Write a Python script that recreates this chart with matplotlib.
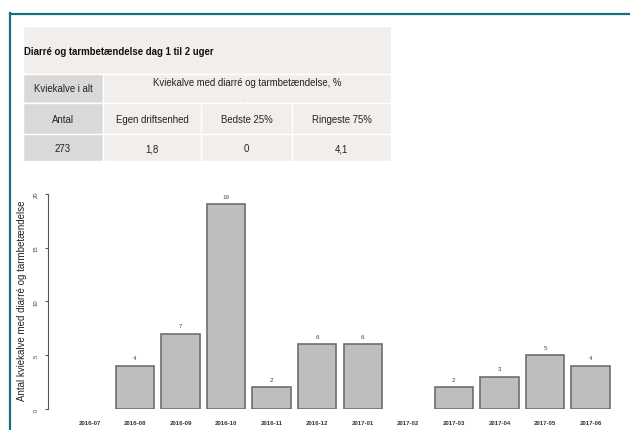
import matplotlib
matplotlib.use("Agg")
import matplotlib.pyplot as plt
from matplotlib.patches import Rectangle
from matplotlib.lines import Line2D

months = ["2016-07", "2016-08", "2016-09", "2016-10", "2016-11", "2016-12",
          "2017-01", "2017-02", "2017-03", "2017-04", "2017-05", "2017-06"]
counts = [0, 4, 7, 19, 2, 6, 6, 0, 2, 3, 5, 4]
yticks = [0, 5, 10, 15, 20]

table_title = "Diarré og tarmbetændelse dag 1 til 2 uger"
header_left = "Kviekalve i alt"
header_right = "Kviekalve med diarré og tarmbetændelse, %"
col_labels = ["Antal", "Egen driftsenhed", "Bedste 25%", "Ringeste 75%"]
row_values = ["273", "1,8", "0", "4,1"]
ylabel = "Antal kviekalve med diarré og tarmbetændelse"

plt.rcParams['font.family'] = ['Liberation Sans', 'DejaVu Sans']

W, H = 630, 431
fig = plt.figure(figsize=(W / 100, H / 100), dpi=100)
fig.patch.set_facecolor("white")

def fx(px):
    return px / W

def fy(py):
    return 1 - py / H

# teal border
teal = "#17707a"
fig.add_artist(Line2D([fx(10), fx(10)], [fy(14), 0], color=teal, lw=1.6, transform=fig.transFigure))
fig.add_artist(Line2D([fx(10), 1], [fy(14.5), fy(14.5)], color=teal, lw=1.6, transform=fig.transFigure))

# table
bg = "#f2eeec"
gray = "#d9d9d9"
def rect(x0, y0, x1, y1, color):
    fig.add_artist(Rectangle((fx(x0), fy(y1)), fx(x1) - fx(x0), fy(y0) - fy(y1),
                             facecolor=color, edgecolor="white", lw=1.0,
                             transform=fig.transFigure))

rect(23, 27, 391, 75, bg)
rect(23, 75, 103, 104, gray)
rect(103, 75, 391, 104, bg)
cols = [23, 103, 201, 292, 391]
for r, (y0, y1) in enumerate([(104, 135), (135, 162)]):
    for c in range(4):
        rect(cols[c], y0, cols[c + 1], y1, gray if c == 0 else bg)

fig.text(fx(24), fy(52), table_title, fontsize=6.9, fontweight="bold",
         ha="left", va="center", color="#111111")
fig.text(fx(63), fy(89.5), header_left, fontsize=6.9, ha="center", va="center", color="#222222")
fig.text(fx(247), fy(83), header_right, fontsize=6.9, ha="center", va="center", color="#222222")
fig.text(fx(244), fy(99), ".", fontsize=4, ha="center", va="center", color="#888888")
for c in range(4):
    xc = (cols[c] + cols[c + 1]) / 2
    fig.text(fx(xc), fy(120), col_labels[c], fontsize=6.9, ha="center", va="center", color="#222222")
    fig.text(fx(xc), fy(149), row_values[c], fontsize=6.9, ha="center", va="center", color="#222222")

# bar chart
left_px, right_px = 48, 625
bottom_px, top_px = 410, 194.7
ax = fig.add_axes([fx(left_px), fy(bottom_px), fx(right_px) - fx(left_px), fy(top_px) - fy(bottom_px)])
ax.set_facecolor("none")
x = list(range(len(months)))
bx = [xi for xi, v in zip(x, counts) if v > 0]
bv = [v for v in counts if v > 0]
ax.bar(bx, bv, width=0.845, color="#bebebe", edgecolor="#6e6e6e", linewidth=1.2)
step = 45.55
ax.set_xlim(-(89.5 - left_px) / step, 11 + (right_px - 590.5) / step)
ax.set_ylim(0, 20)
for xi, v in zip(bx, bv):
    ax.annotate(str(v), (xi, v), xytext=(0, 4), textcoords="offset points",
                ha="center", va="bottom", fontsize=4.5, color="#5a3a40")
for s in ["top", "right", "bottom"]:
    ax.spines[s].set_visible(False)
ax.spines["left"].set_bounds(0, 20)
ax.spines["left"].set_color("#555555")
ax.spines["left"].set_linewidth(0.8)
ax.set_yticks(yticks)
ax.set_yticklabels([str(t) for t in yticks], rotation=90, va="center", fontsize=4.2, color="#444444")
ax.tick_params(axis="y", length=2.5, width=0.8, color="#555555", pad=4)
ax.set_xticks(x)
ax.set_xticklabels(months, fontsize=4.4, color="#333333", fontweight="bold")
ax.tick_params(axis="x", length=0, pad=8)

fig.text(fx(22), fy(301), ylabel, rotation=90, fontsize=7.0, ha="center", va="center", color="#222222")

fig.savefig("out.png", dpi=100, facecolor="white")
